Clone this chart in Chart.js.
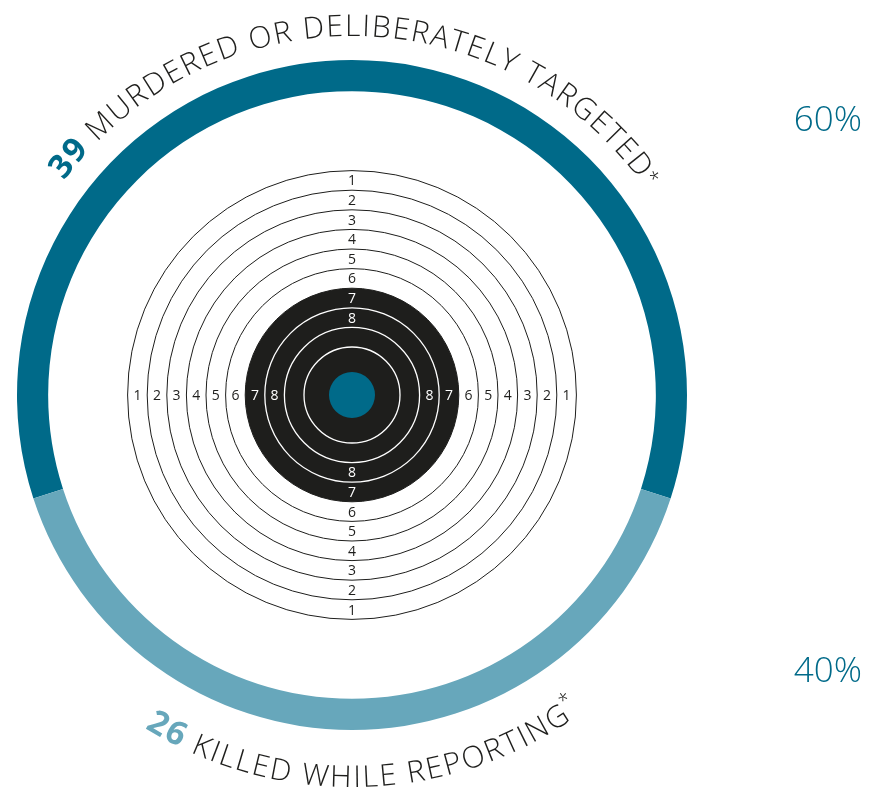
<!DOCTYPE html>
<html>
<head>
<meta charset="utf-8">
<script src="https://cdn.jsdelivr.net/npm/chart.js@4.4.0/dist/chart.umd.min.js"></script>
<style>
  html, body { margin: 0; padding: 0; background: #fff; }
  #wrap { position: relative; width: 870px; height: 795px; }
  #wrap canvas { position: absolute; left: 0; top: 0; }
</style>
</head>
<body>
<div id="wrap">
  <canvas id="ringChart" width="870" height="795"></canvas>
  <canvas id="targetChart" width="870" height="795"></canvas>
</div>
<script>
// data
const categories = ['MURDERED OR DELIBERATELY TARGETED', 'KILLED WHILE REPORTING'];
const counts = [39, 26];
const ringColors = ['#006a89', '#67a7bb'];
const targetRingLabels = ['1', '2', '3', '4', '5', '6', '7', '8'];

const total = counts.reduce((a, b) => a + b, 0);
const percentLabels = counts.map(c => Math.round(c / total * 100) + '%');

// target look
const RING_STEP = 19.6;
const BULL_RADIUS = 48;
const TARGET_MAX = 230;
const ringEdges = [];
for (let k = 0; k < 10; k++) ringEdges.push(BULL_RADIUS + k * RING_STEP);
const blackEdge = ringEdges[3];
const INK = '#1e1e1c';
const LABEL_FONT = '"Open Sans"';

const deg = d => d * Math.PI / 180;

// text along the ring; the last part (the asterisk) sits right after the text
function drawArcText(ctx, cx, cy, r, a0, a1, parts, side) {
    const chars = [];
    parts.forEach((p, pi) => {
        ctx.font = p.font;
        for (const ch of p.text) {
            chars.push({ ch, font: p.font, color: p.color, rise: p.rise || 0, tail: pi === parts.length - 1,
                w: ctx.measureText(ch).width });
        }
    });
    const body = chars.filter(c => !c.tail);
    const natural = body.reduce((s, c) => s + c.w, 0);
    const extra = ((a1 - a0) * r - natural) / (body.length - 1);
    let pos = 0;
    ctx.save();
    ctx.textAlign = 'center';
    ctx.textBaseline = 'alphabetic';
    chars.forEach((c, i) => {
        if (c.tail && i > 0 && !chars[i - 1].tail) pos -= extra - 1;
        const a = a0 + (pos + c.w / 2) / r;
        ctx.font = c.font;
        ctx.fillStyle = c.color;
        ctx.save();
        if (side === 'top') {
            const rr = r + c.rise;
            ctx.translate(cx + rr * Math.sin(a), cy - rr * Math.cos(a));
            ctx.rotate(a);
        } else {
            const rr = r - c.rise;
            ctx.translate(cx + rr * Math.sin(a), cy + rr * Math.cos(a));
            ctx.rotate(-a);
        }
        ctx.fillText(c.ch, 0, 0);
        ctx.restore();
        pos += c.w + extra;
    });
    ctx.restore();
}

const arcTextPlugin = {
    id: 'arcText',
    afterDraw(chart) {
        const arc = chart.getDatasetMeta(0).data[0];
        const cx = arc.x, cy = arc.y, R = arc.outerRadius;
        const ctx = chart.ctx;

        drawArcText(ctx, cx, cy, R + 24, deg(-53.3), deg(53), [
            { text: String(counts[0]), font: 'bold 33px ' + LABEL_FONT, color: ringColors[0] },
            { text: ' ' + categories[0], font: '300 30px ' + LABEL_FONT, color: INK },
            { text: '*', font: '300 20px ' + LABEL_FONT, color: INK, rise: 4 }
        ], 'top');

        drawArcText(ctx, cx, cy, R + 57, deg(-31.9), deg(34), [
            { text: String(counts[1]), font: 'bold 33px ' + LABEL_FONT, color: ringColors[1] },
            { text: ' ' + categories[1], font: '300 30px ' + LABEL_FONT, color: INK },
            { text: '*', font: '300 20px ' + LABEL_FONT, color: INK, rise: 13 }
        ], 'bottom');

        ctx.save();
        ctx.font = '300 35px ' + LABEL_FONT;
        ctx.fillStyle = ringColors[0];
        ctx.textAlign = 'right';
        ctx.fillText(percentLabels[0], 862, 131);
        ctx.fillText(percentLabels[1], 862, 682);
        ctx.restore();
    }
};

const ringNumberPlugin = {
    id: 'ringNumbers',
    afterDraw(chart) {
        const s = chart.scales.r;
        const ctx = chart.ctx;
        ctx.save();
        ctx.font = '14px ' + LABEL_FONT;
        ctx.textAlign = 'center';
        ctx.textBaseline = 'middle';
        targetRingLabels.forEach((lab, i) => {
            const n = i + 1;
            const d = s.getDistanceFromCenterForValue(BULL_RADIUS + (9.5 - n) * RING_STEP);
            ctx.fillStyle = n >= 7 ? '#ffffff' : INK;
            [[0, -1], [0, 1], [-1, 0], [1, 0]].forEach(([dx, dy]) => {
                ctx.fillText(lab, s.xCenter + dx * d, s.yCenter + dy * d + 1);
            });
        });
        ctx.restore();
    }
};

new Chart(document.getElementById('ringChart'), {
    type: 'doughnut',
    data: {
        labels: categories,
        datasets: [{
            data: counts,
            backgroundColor: ringColors,
            borderWidth: 0
        }]
    },
    options: {
        responsive: false,
        animation: false,
        rotation: -counts[0] / total * 180,
        cutout: '90.7%',
        layout: { padding: { left: 17, right: 183, top: 60, bottom: 65 } },
        plugins: {
            legend: { display: false },
            tooltip: { enabled: false }
        }
    },
    plugins: [arcTextPlugin]
});

new Chart(document.getElementById('targetChart'), {
    type: 'polarArea',
    data: {
        labels: ['centre'],
        datasets: [
            { data: [23], backgroundColor: ringColors[0], borderWidth: 0 },
            { data: [blackEdge], backgroundColor: INK, borderWidth: 0 }
        ]
    },
    options: {
        responsive: false,
        animation: false,
        layout: { padding: { left: 122, right: 288, top: 165, bottom: 170 } },
        plugins: {
            legend: { display: false },
            tooltip: { enabled: false }
        },
        scales: {
            r: {
                min: 0,
                max: TARGET_MAX,
                ticks: { display: false },
                angleLines: { display: false },
                pointLabels: { display: false },
                grid: {
                    z: 1,
                    circular: true,
                    color: c => (c.tick && c.tick.value < blackEdge - 0.5) ? '#ffffff' : INK,
                    lineWidth: c => (c.tick && c.tick.value < blackEdge - 0.5) ? 1.3 : 1
                },
                afterBuildTicks: s => {
                    s.ticks = [0].concat(ringEdges).map(v => ({ value: v }));
                }
            }
        }
    },
    plugins: [ringNumberPlugin]
});
</script>
</body>
</html>
